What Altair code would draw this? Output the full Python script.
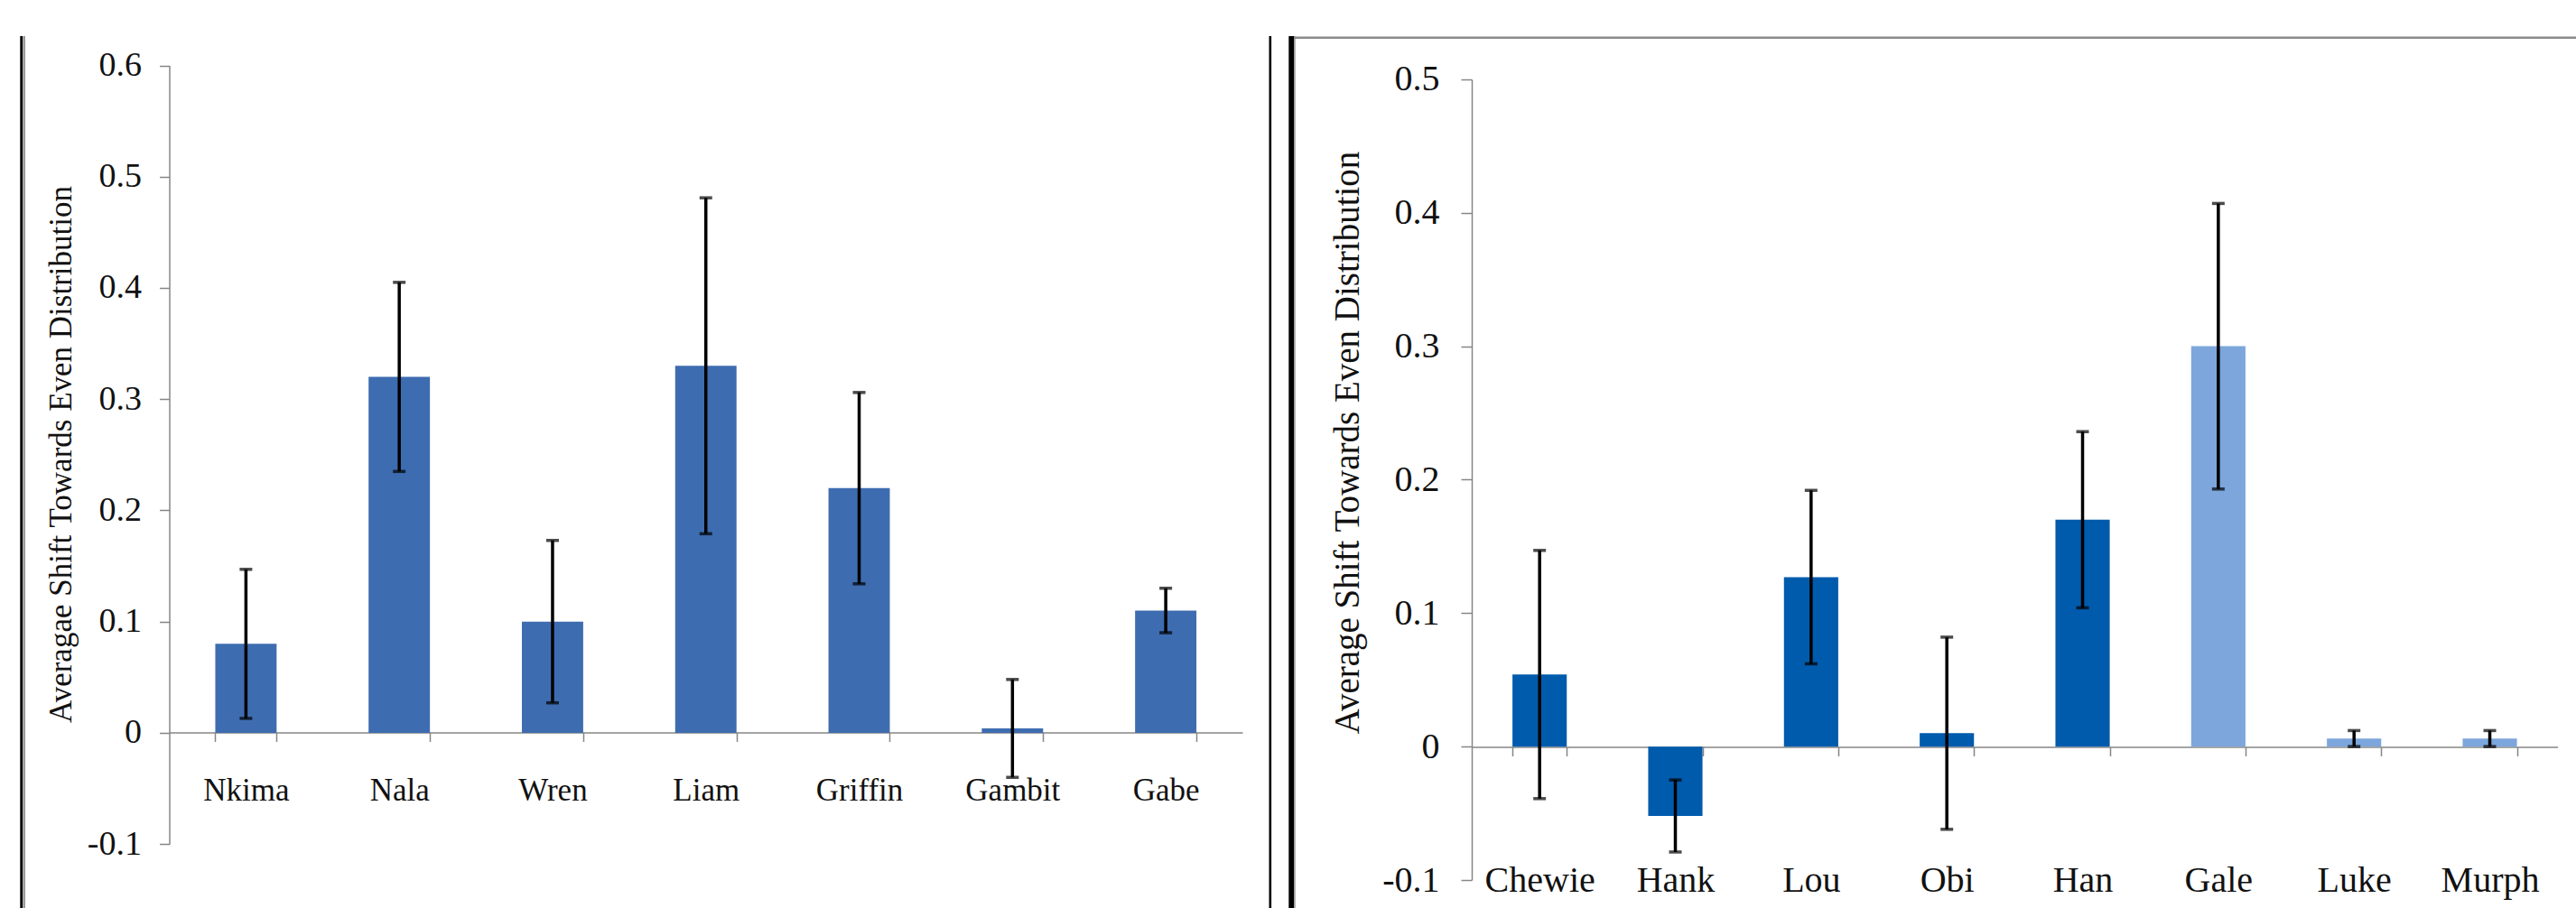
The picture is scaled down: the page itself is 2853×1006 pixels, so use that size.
import altair as alt
import pandas as pd

# ---- data ----
left_names = ["Nkima", "Nala", "Wren", "Liam", "Griffin", "Gambit", "Gabe"]
left_values = [0.08, 0.32, 0.10, 0.33, 0.22, 0.004, 0.11]
left_errors = [0.067, 0.085, 0.073, 0.151, 0.086, 0.044, 0.020]

right_names = ["Chewie", "Hank", "Lou", "Obi", "Han", "Gale", "Luke", "Murph"]
right_values = [0.054, -0.052, 0.127, 0.010, 0.170, 0.300, 0.006, 0.006]
right_errors = [0.093, 0.027, 0.065, 0.072, 0.066, 0.107, 0.006, 0.006]
right_groups = ["dark", "dark", "dark", "dark", "dark", "light", "light", "light"]

left_ticks = [-0.1, 0, 0.1, 0.2, 0.3, 0.4, 0.5, 0.6]
right_ticks = [-0.1, 0, 0.1, 0.2, 0.3, 0.4, 0.5]

left_df = pd.DataFrame({"name": left_names, "value": left_values, "err": left_errors})
left_df["lo"] = left_df["value"] - left_df["err"]
left_df["hi"] = left_df["value"] + left_df["err"]

right_df = pd.DataFrame({"name": right_names, "value": right_values,
                         "err": right_errors, "group": right_groups})
right_df["lo"] = right_df["value"] - right_df["err"]
right_df["hi"] = right_df["value"] + right_df["err"]

W, H = 2853, 1006
AXIS_GRAY = "#868686"
FONT = "Liberation Serif"
label_expr = ("datum.value == 0 ? '0' : (datum.value < 0 ? '-' + format(-datum.value, '.1f') "
              ": format(datum.value, '.1f'))")

# ---- left panel ----
lx = alt.Scale(domain=left_names, range=[187.5, 1376], paddingInner=0.6, paddingOuter=0.3)
ly = alt.Scale(domain=[-0.1, 0.6], range=[935.2, 72.5], nice=False, zero=False)

left_xaxis = alt.Axis(orient="bottom", offset=-(H - 811.5), title=None, tickBand="extent",
                      domainColor=AXIS_GRAY, domainWidth=1.5, tickColor=AXIS_GRAY, tickWidth=1.5,
                      tickSize=10, labelFont=FONT, labelFontSize=35, labelColor="#111",
                      labelBaseline="middle", labelPadding=54, labelAngle=0, grid=False)
left_yaxis = alt.Axis(orient="left", offset=-187.5, values=left_ticks, labelExpr=label_expr,
                      title="Averagae Shift Towards Even Distribution", titleFont=FONT,
                      titleFontSize=35, titleFontWeight="normal", titleColor="#111",
                      titleX=-102.5, titleY=503, titleAngle=270, titleBaseline="bottom",
                      domainColor=AXIS_GRAY, domainWidth=1.5, tickColor=AXIS_GRAY, tickWidth=1.5,
                      tickSize=11, labelFont=FONT, labelFontSize=38, labelColor="#111",
                      labelPadding=20, grid=False)

lbars = alt.Chart(left_df).mark_bar(color="#3E6CB0").encode(
    x=alt.X("name:N", scale=lx, axis=left_xaxis, sort=left_names),
    y=alt.Y("value:Q", scale=ly, axis=left_yaxis),
)
lstem = alt.Chart(left_df).mark_rule(color="#000", strokeWidth=3.5).encode(
    x=alt.X("name:N", sort=left_names), y=alt.Y("lo:Q"), y2="hi:Q")
lcap_lo = alt.Chart(left_df).mark_tick(color="#000", size=14, thickness=3.5).encode(
    x=alt.X("name:N", sort=left_names), y=alt.Y("lo:Q"))
lcap_hi = alt.Chart(left_df).mark_tick(color="#000", size=14, thickness=3.5).encode(
    x=alt.X("name:N", sort=left_names), y=alt.Y("hi:Q"))
left = alt.layer(lbars, lstem, lcap_lo, lcap_hi)

# ---- right panel ----
rx = alt.Scale(domain=right_names, range=[1630, 2832.7], paddingInner=0.6, paddingOuter=0.3)
ry = alt.Scale(domain=[-0.1, 0.5], range=[975, 87.9], nice=False, zero=False)

right_xaxis = alt.Axis(orient="bottom", offset=-(H - 827.5), title=None, tickBand="extent",
                       domainColor=AXIS_GRAY, domainWidth=1.5, tickColor=AXIS_GRAY, tickWidth=1.5,
                       tickSize=10, labelFont=FONT, labelFontSize=40, labelColor="#111",
                       labelBaseline="middle", labelPadding=137.5, labelAngle=0, grid=False)
right_yaxis = alt.Axis(orient="left", offset=-1630, values=right_ticks, labelExpr=label_expr,
                       title="Average Shift Towards Even Distribution", titleFont=FONT,
                       titleFontSize=39, titleFontWeight="normal", titleColor="#111",
                       titleX=-118, titleY=490, titleAngle=270, titleBaseline="bottom",
                       domainColor=AXIS_GRAY, domainWidth=1.5, tickColor=AXIS_GRAY, tickWidth=1.5,
                       tickSize=12, labelFont=FONT, labelFontSize=40, labelColor="#111",
                       labelPadding=24, grid=False)

rbars = alt.Chart(right_df).mark_bar().encode(
    x=alt.X("name:N", scale=rx, axis=right_xaxis, sort=right_names),
    y=alt.Y("value:Q", scale=ry, axis=right_yaxis),
    color=alt.Color("group:N", scale=alt.Scale(domain=["dark", "light"],
                                               range=["#005BAD", "#7CA6DC"]), legend=None),
)
rstem = alt.Chart(right_df).mark_rule(color="#000", strokeWidth=3.5).encode(
    x=alt.X("name:N", sort=right_names), y=alt.Y("lo:Q"), y2="hi:Q")
rcap_lo = alt.Chart(right_df).mark_tick(color="#000", size=14, thickness=3.5).encode(
    x=alt.X("name:N", sort=right_names), y=alt.Y("lo:Q"))
rcap_hi = alt.Chart(right_df).mark_tick(color="#000", size=14, thickness=3.5).encode(
    x=alt.X("name:N", sort=right_names), y=alt.Y("hi:Q"))
right = alt.layer(rbars, rstem, rcap_lo, rcap_hi)

# ---- frame lines (chart-area borders) ----
one = pd.DataFrame({"k": [0]})
def vline(x, w, color):
    return alt.Chart(one).mark_rule(color=color, strokeWidth=w).encode(
        x=alt.value(x), y=alt.value(40), y2=alt.value(H))

frames = alt.layer(
    vline(23.8, 3, "#000"),
    vline(27, 2, "#9a9a9a"),
    vline(1406.8, 2.6, "#000"),
    vline(1430.3, 6, "#000"),
    vline(1434, 1.5, "#9a9a9a"),
    alt.Chart(one).mark_rule(color="#8a8a8a", strokeWidth=2.5).encode(
        x=alt.value(1433), x2=alt.value(W), y=alt.value(41.7)),
)

chart = alt.layer(left, right, frames).resolve_scale(
    x="independent", y="independent", color="independent"
).properties(
    width=W, height=H, autosize=alt.AutoSizeParams(type="none"), padding=0,
    background="white",
).configure_view(stroke=None)

chart.save("out.html", embed_options={"renderer": "svg", "actions": False})
